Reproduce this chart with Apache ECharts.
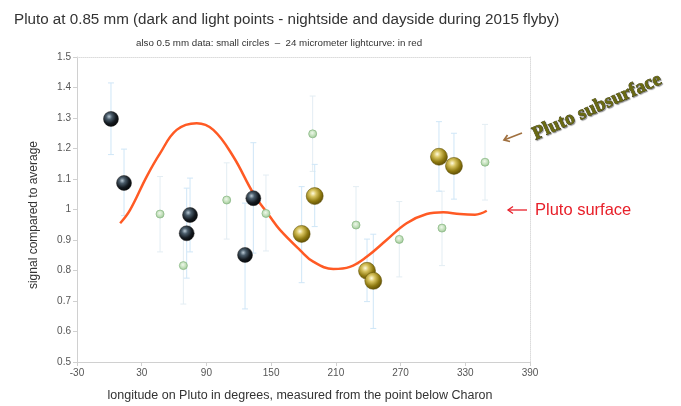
<!DOCTYPE html>
<html>
<head>
<meta charset="utf-8">
<script src="https://cdn.jsdelivr.net/npm/echarts@6/dist/echarts.min.js"></script>
<style>html,body{margin:0;padding:0;background:#fff;}#c{width:681px;height:406px;}</style>
</head>
<body>
<div id="c"></div>
<script>
// ---- data ----
// 0.85 mm nightside points (dark)
const nightLon = [1.5, 13.6, 71.7, 74.8, 125.8, 133.5];
const nightVal = [1.297, 1.087, 0.922, 0.982, 0.851, 1.037];
const nightLo  = [1.18, 0.98, 0.775, 0.861, 0.674, 0.857];
const nightHi  = [1.415, 1.198, 1.07, 1.103, 1.021, 1.219];
// 0.85 mm dayside points (light)
const dayLon = [178.3, 190.4, 238.9, 244.7, 305.6, 319.5];
const dayVal = [0.920, 1.044, 0.799, 0.766, 1.173, 1.143];
const dayLo  = [0.76, 0.944, 0.698, 0.61, 1.06, 1.034];
const dayHi  = [1.075, 1.148, 0.903, 0.919, 1.288, 1.25];
// 0.5 mm data (small circles)
const smallLon = [47, 68.6, 108.8, 145.2, 188.5, 228.7, 268.8, 308.4, 348.3];
const smallVal = [0.985, 0.816, 1.031, 0.987, 1.248, 0.949, 0.902, 0.939, 1.155];
const smallLo  = [0.861, 0.69, 0.903, 0.864, 1.125, 0.82, 0.779, 0.816, 1.031];
const smallHi  = [1.108, 0.94, 1.153, 1.113, 1.372, 1.075, 1.026, 1.06, 1.279];
// 24 micrometer lightcurve (red)
const curveLon = [10, 19.1, 34.6, 47, 62.4, 81, 96.4, 115, 133.5, 149, 158.2, 176.7, 189, 207.6, 223, 238.6, 257, 275.6, 294.2, 309.6, 325, 339, 349.9];
const curveVal = [0.955, 0.998, 1.108, 1.184, 1.261, 1.283, 1.261, 1.173, 1.053, 0.976, 0.933, 0.867, 0.829, 0.805, 0.812, 0.845, 0.9, 0.955, 0.985, 0.991, 0.985, 0.983, 0.996];

const zip2 = (a, b) => a.map((v, i) => [v, b[i]]);
const zip3 = (a, b, c) => a.map((v, i) => [v, b[i], c[i]]);

function errRender(color) {
  return function (params, api) {
    const x = api.value(0), lo = api.value(1), hi = api.value(2);
    const p1 = api.coord([x, lo]), p2 = api.coord([x, hi]);
    const w = 3;
    const st = { stroke: color, lineWidth: 1 };
    return {
      type: 'group',
      children: [
        { type: 'line', shape: { x1: p1[0], y1: p1[1], x2: p2[0], y2: p2[1] }, style: st },
        { type: 'line', shape: { x1: p1[0] - w, y1: p1[1], x2: p1[0] + w, y2: p1[1] }, style: st },
        { type: 'line', shape: { x1: p2[0] - w, y1: p2[1], x2: p2[0] + w, y2: p2[1] }, style: st }
      ]
    };
  };
}

const darkGrad = { type: 'radial', x: 0.38, y: 0.35, r: 0.75, colorStops: [
  { offset: 0, color: '#b8c8d4' }, { offset: 0.25, color: '#4a5c6a' },
  { offset: 0.6, color: '#141a20' }, { offset: 1, color: '#000' } ] };
const goldGrad = { type: 'radial', x: 0.4, y: 0.35, r: 0.75, colorStops: [
  { offset: 0, color: '#fffbe0' }, { offset: 0.25, color: '#d8c460' },
  { offset: 0.6, color: '#8f7a10' }, { offset: 1, color: '#4a3c00' } ] };
const greenGrad = { type: 'radial', x: 0.45, y: 0.4, r: 0.7, colorStops: [
  { offset: 0, color: '#eef8ea' }, { offset: 0.6, color: '#b6d8ae' }, { offset: 1, color: '#7fae7a' } ] };

const FONT = 'Liberation Sans, Arial, sans-serif';
const chart = echarts.init(document.getElementById('c'), null, { renderer: 'canvas' });
chart.setOption({
  backgroundColor: '#fff',
  animation: false,
  title: {
    text: 'Pluto at 0.85 mm (dark and light points - nightside and dayside during 2015 flyby)',
    left: 9, top: 7,
    textStyle: { fontSize: 15.2, fontWeight: 'normal', color: '#333', fontFamily: FONT }
  },
  grid: { left: 77, right: 151, top: 57, bottom: 44 },
  xAxis: [{
    type: 'value', min: -30, max: 390, interval: 60,
    axisLine: { show: true, onZero: false, lineStyle: { color: '#d0d0d0' } },
    axisTick: { show: true, length: 4, lineStyle: { color: '#d0d0d0' } },
    axisLabel: { color: '#555', fontSize: 10, fontFamily: FONT, margin: 6 },
    splitLine: { show: false }
  }, {
    type: 'value', position: 'top', min: -30, max: 390,
    axisLine: { show: true, onZero: false, lineStyle: { color: '#dcdcdc', type: 'dotted' } },
    axisTick: { show: false }, axisLabel: { show: false }, splitLine: { show: false }
  }],
  yAxis: [{
    type: 'value', min: 0.5, max: 1.5, interval: 0.1,
    axisLine: { show: true, onZero: false, lineStyle: { color: '#d0d0d0' } },
    axisTick: { show: true, length: 4, lineStyle: { color: '#d0d0d0' } },
    axisLabel: { color: '#555', fontSize: 10, fontFamily: FONT, margin: 6 },
    splitLine: { show: false }
  }, {
    type: 'value', position: 'right', min: 0.5, max: 1.5,
    axisLine: { show: true, onZero: false, lineStyle: { color: '#dcdcdc', type: 'dotted' } },
    axisTick: { show: false }, axisLabel: { show: false }, splitLine: { show: false }
  }],
  series: [
    { type: 'custom', renderItem: errRender('#e3edf3'), data: zip3(smallLon, smallLo, smallHi), encode: { x: 0, y: [1, 2] }, z: 1 },
    { type: 'custom', renderItem: errRender('#cfe6f7'), data: zip3(nightLon, nightLo, nightHi), encode: { x: 0, y: [1, 2] }, z: 1 },
    { type: 'custom', renderItem: errRender('#cfe6f7'), data: zip3(dayLon, dayLo, dayHi), encode: { x: 0, y: [1, 2] }, z: 1 },
    { type: 'line', data: zip2(curveLon, curveVal), smooth: 0.4, symbol: 'none',
      lineStyle: { color: '#ff5a24', width: 2.5 }, z: 2 },
    { type: 'scatter', data: zip2(smallLon, smallVal), symbolSize: 8,
      itemStyle: { color: greenGrad, borderColor: '#8dba88', borderWidth: 0.8, opacity: 1 }, z: 3 },
    { type: 'scatter', data: zip2(nightLon, nightVal), symbolSize: 15,
      itemStyle: { color: darkGrad, borderColor: '#222', borderWidth: 0.5, opacity: 1 }, z: 4 },
    { type: 'scatter', data: zip2(dayLon, dayVal), symbolSize: 17,
      itemStyle: { color: goldGrad, borderColor: '#5a4a00', borderWidth: 0.5, opacity: 1 }, z: 4 }
  ],
  graphic: [
    { type: 'text', left: 136, top: 38, style: { text: 'also 0.5 mm data: small circles  –  24 micrometer lightcurve: in red',
      fontSize: 9.75, fill: '#333', fontFamily: 'Liberation Sans Narrow, ' + FONT } },
    { type: 'text', x: 300, y: 396, style: { text: 'longitude on Pluto in degrees, measured from the point below Charon',
      fontSize: 12.5, fill: '#333', fontFamily: FONT, align: 'center', verticalAlign: 'middle' } },
    { type: 'text', x: 34, y: 215, rotation: Math.PI / 2, style: { text: 'signal compared to average',
      fontSize: 12, fill: '#333', fontFamily: FONT, align: 'center', verticalAlign: 'middle' } },
    // Pluto surface annotation
    { type: 'line', shape: { x1: 508, y1: 210, x2: 527, y2: 210 }, style: { stroke: '#e8202a', lineWidth: 1.3 } },
    { type: 'polyline', shape: { points: [[513, 206.5], [508, 210], [513, 213.5]] }, style: { stroke: '#e8202a', lineWidth: 1.3, fill: null } },
    { type: 'text', x: 535, y: 210, style: { text: 'Pluto surface', fontSize: 16.5, fill: '#e8202a', fontFamily: FONT, verticalAlign: 'middle' } },
    // Pluto subsurface annotation
    { type: 'line', shape: { x1: 504, y1: 140, x2: 522, y2: 133 }, style: { stroke: '#a0703f', lineWidth: 1.7 } },
    { type: 'polyline', shape: { points: [[507.5, 135], [504, 140], [510, 141.5]] }, style: { stroke: '#a0703f', lineWidth: 1.7, fill: null } },
    { type: 'text', x: 597, y: 107, rotation: 0.42, style: { text: 'Pluto subsurface', fontSize: 19.5, fontWeight: 'bold',
      fill: '#6a6a12', stroke: '#2a2a08', lineWidth: 0.6, fontFamily: 'Liberation Serif, DejaVu Serif, serif',
      align: 'center', verticalAlign: 'middle', textShadowColor: 'rgba(0,0,0,0.35)', textShadowBlur: 1, textShadowOffsetX: 1, textShadowOffsetY: 1 } }
  ]
});
</script>
</body>
</html>
